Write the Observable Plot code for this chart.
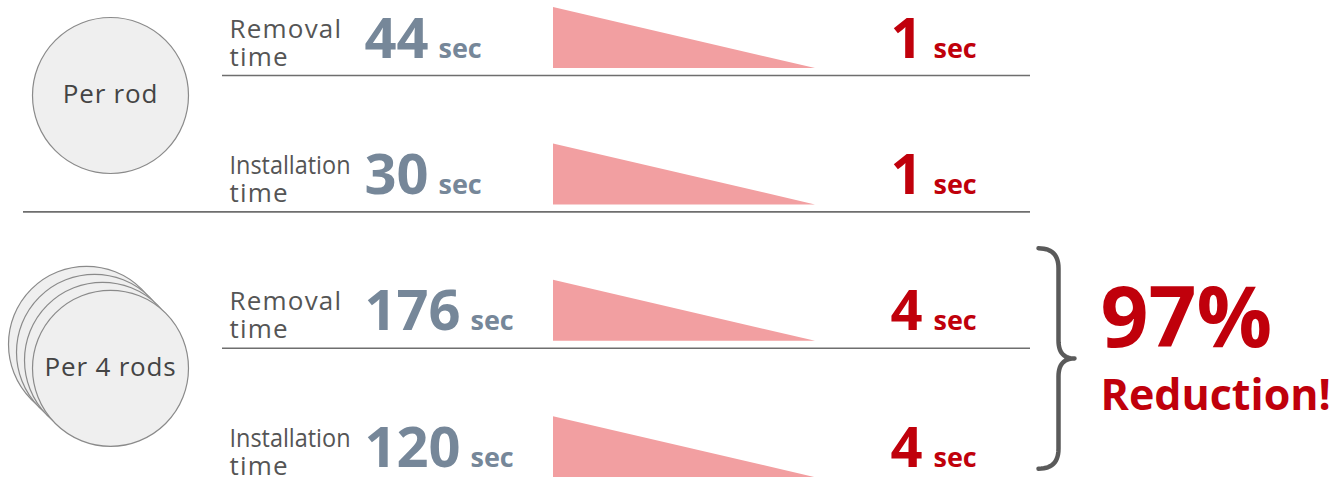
<!DOCTYPE html>
<html><head><meta charset="utf-8">
<script src="https://cdn.jsdelivr.net/npm/d3@7"></script>
<script src="https://cdn.jsdelivr.net/npm/@observablehq/plot@0.6"></script>
<style>body{margin:0;background:#fff;} svg{display:block;}</style>
</head><body><div id="chart"></div>
<script>
// ---- data ----
const groups = ["Per rod", "Per 4 rods"];
const rodCounts = [1, 4];
const tasks = ["Removal\ntime", "Installation\ntime", "Removal\ntime", "Installation\ntime"];
const rowGroup = [0, 0, 1, 1];
const before = [44, 30, 176, 120];
const after = [1, 1, 4, 4];
const unit = "sec";
const reduction = "97%";
const reductionLabel = "Reduction!";

// ---- layout ----
const W = 1333, H = 477;
const FONT = "'Open Sans', 'Noto Sans', sans-serif";
const GREY = "#768799", RED = "#c0000b", PINK = "#f29fa1", LINE = "#6e6e6e";
const rowTop = i => 7 + i * 136.4;

const rows = before.map((b, i) => ({
  i, task: tasks[i], before: b, after: after[i], group: rowGroup[i], t: rowTop(i),
  groupEnd: i === before.length - 1 || rowGroup[i + 1] !== rowGroup[i]
}));

const triData = rows.flatMap(r => [
  {row: r.i, x: 553, y1: r.t + 61, y2: r.t},
  {row: r.i, x: 815, y1: r.t + 61, y2: r.t + 61}
]);

const groupFirstRow = groups.map((g, gi) => rows.find(r => r.group === gi));
const groupLastRow = groups.map((g, gi) => rows.filter(r => r.group === gi).at(-1));

const circleData = groups.flatMap((g, gi) => {
  const n = rodCounts[gi], t0 = groupFirstRow[gi].t;
  return d3.range(n).map(k => ({x: 110 - (n - 1 - k) * 8, y: t0 + 88 - (n - 1 - k) * 8}));
});
const groupLabels = groups.map((g, gi) => ({label: g, x: 110, y: groupFirstRow[gi].t + 87}));

// brace around last group
function quad(p0, p1, p2, n = 14) {
  return d3.range(n + 1).map(k => {
    const s = k / n;
    return [(1 - s) ** 2 * p0[0] + 2 * (1 - s) * s * p1[0] + s * s * p2[0],
            (1 - s) ** 2 * p0[1] + 2 * (1 - s) * s * p1[1] + s * s * p2[1]];
  });
}
const bTop = groupFirstRow[1].t - 32, bBot = groupLastRow[1].t + 52, bMid = (bTop + bBot) / 2;
const x0 = 1038, xv = 1058, xt = 1074;
const bracePts = [
  ...quad([x0, bTop], [xv, bTop], [xv, bTop + 20]),
  ...quad([xv, bMid - 18], [xv, bMid], [xt, bMid]),
  ...quad([xt, bMid], [xv, bMid], [xv, bMid + 18]),
  ...quad([xv, bBot - 20], [xv, bBot], [x0, bBot])
];

const chart = Plot.plot({
  width: W, height: H, margin: 0,
  x: {domain: [0, W], range: [0, W], axis: null},
  y: {domain: [0, H], range: [0, H], axis: null},
  style: {fontFamily: FONT, background: "white"},
  marks: [
    Plot.dot(circleData, {x: "x", y: "y", r: 78, fill: "#efefef", stroke: "#8a8a8a", strokeWidth: 1.2}),
    Plot.text(groupLabels, {x: "x", y: "y", text: "label", fontSize: 26, fill: "#444"}),
    Plot.ruleY(rows.filter(r => r.i < rows.length - 1), {
      y: r => r.t + 68, x1: r => r.groupEnd ? 23 : 222, x2: 1030, stroke: LINE, strokeWidth: 1.6
    }),
    Plot.areaY(triData, {x: "x", y1: "y1", y2: "y2", z: "row", fill: PINK}),
    Plot.text(rows, {x: 229, y: r => r.t + 58, text: "task", textAnchor: "start", lineAnchor: "bottom",
      lineHeight: 28 / 26, fontSize: 26, fill: "#555"}),
    Plot.text(rows, {x: 364, y: r => r.t + 50, text: r => String(r.before), textAnchor: "start",
      lineAnchor: "bottom", fontSize: 56, fontWeight: "bold", fill: GREY}),
    Plot.text(rows, {x: r => 364 + String(r.before).length * 32 + 10, y: r => r.t + 50, text: () => unit,
      textAnchor: "start", lineAnchor: "bottom", fontSize: 27, fontWeight: "bold", fill: GREY}),
    Plot.text(rows, {x: 906, y: r => r.t + 50, text: r => String(r.after), textAnchor: "middle",
      lineAnchor: "bottom", fontSize: 56, fontWeight: "bold", fill: RED}),
    Plot.text(rows, {x: 933, y: r => r.t + 50, text: () => unit, textAnchor: "start",
      lineAnchor: "bottom", fontSize: 27, fontWeight: "bold", fill: RED}),
    Plot.line(bracePts, {x: d => d[0], y: d => d[1], stroke: "#5a5a5a", strokeWidth: 4.5}),
    Plot.text([reduction], {x: 1100, y: groupFirstRow[1].t + 67, text: d => d, textAnchor: "start",
      lineAnchor: "bottom", fontSize: 84, fontWeight: "bold", fill: RED}),
    Plot.text([reductionLabel], {x: 1100, y: groupFirstRow[1].t + 130, text: d => d, textAnchor: "start",
      lineAnchor: "bottom", fontSize: 43, fontWeight: "bold", fill: RED})
  ]
});
document.getElementById("chart").append(chart);

// typographic tuning of the row labels (letter spacing / condensed "Installation")
d3.select(chart).selectAll("tspan").each(function () {
  const s = this.textContent;
  if (s === "Installation") {
    this.setAttribute("textLength", 121);
    this.setAttribute("lengthAdjust", "spacingAndGlyphs");
  } else if (s === "Removal" || s === "time") {
    this.setAttribute("letter-spacing", "1.2");
  }
});
d3.select(chart).selectAll("text").each(function () {
  if (this.textContent === "Per rod" || this.textContent === "Per 4 rods") this.setAttribute("letter-spacing", "0.8");
});
</script>
</body></html>
